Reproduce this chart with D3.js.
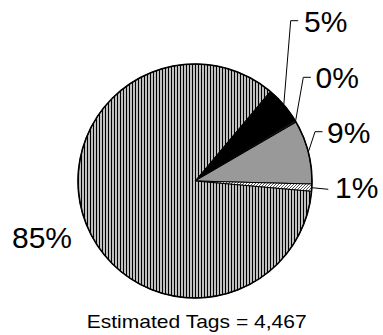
<!DOCTYPE html>
<html>
<head>
<meta charset="utf-8">
<script src="https://cdn.jsdelivr.net/npm/d3@7"></script>
<style>
  html, body { margin: 0; padding: 0; background: #fff; }
  svg { display: block; font-family: "Liberation Sans", Arial, sans-serif; }
</style>
</head>
<body>
<svg id="chart" width="383" height="335"></svg>
<script>
// Share of estimated tags by category (percent)
const categories = ["A", "B", "C", "D", "E"];
const shares = [5.2, 0.3, 8.8, 1.0, 84.7];
const labels = ["5%", "0%", "9%", "1%", "85%"];
const totalLabel = "Estimated Tags = 4,467";

const svg = d3.select("#chart");
const cx = 195, cy = 181, R = 117;

// Fill patterns
const defs = svg.append("defs");
const stripes = defs.append("pattern")
  .attr("id", "vstripe").attr("patternUnits", "userSpaceOnUse")
  .attr("width", 3).attr("height", 3);
stripes.append("rect").attr("width", 3).attr("height", 3).attr("fill", "#c0c0c0");
stripes.append("rect").attr("x", 0).attr("width", 1).attr("height", 3).attr("fill", "#000");

const hatch = defs.append("pattern")
  .attr("id", "dhatch").attr("patternUnits", "userSpaceOnUse")
  .attr("width", 3).attr("height", 3);
hatch.append("rect").attr("width", 3).attr("height", 3).attr("fill", "#fff");
hatch.append("path").attr("d", "M-1,1 L1,-1 M0,3 L3,0 M2,4 L4,2")
  .attr("stroke", "#444").attr("stroke-width", 0.9);

const fills = ["#000", "#1a1a1a", "#999999", "url(#dhatch)", "url(#vstripe)"];

const pie = d3.pie().sort(null).value(d => d)
  .startAngle(40 * Math.PI / 180)
  .endAngle(400 * Math.PI / 180);
const arcs = pie(shares);
const arc = d3.arc().innerRadius(0).outerRadius(R);

const g = svg.append("g").attr("transform", `translate(${cx},${cy})`);
g.selectAll("path.slice").data(arcs).join("path")
  .attr("class", "slice")
  .attr("d", arc)
  .attr("fill", (d, i) => fills[i])
  .attr("stroke", "#000")
  .attr("stroke-width", 1)
  .attr("stroke-linejoin", "round");

// outer rim
g.append("circle").attr("r", R).attr("fill", "none")
  .attr("stroke", "#000").attr("stroke-width", 1.6);

// Edge point at the middle of each slice
function edgePoint(d) {
  const a = (d.startAngle + d.endAngle) / 2;
  return [cx + R * Math.sin(a), cy - R * Math.cos(a)];
}

// Label placement: elbow of the leader and text anchor
const labelLayout = [
  { elbow: [290.7, 20.7], tail: 7.5, tx: 304, ty: 32 },
  { elbow: [303.3, 77.3], tail: 7.5, tx: 315.5, ty: 88 },
  { elbow: [315, 131.7], tail: 7.5, tx: 327, ty: 143 },
  { elbow: null, end: [328.3, 189.3], tx: 335, ty: 198 },
  { elbow: null, end: null, tx: 12, ty: 248 }
];

arcs.forEach((d, i) => {
  const L = labelLayout[i];
  const p = edgePoint(d);
  if (L.elbow) {
    const pts = [p, L.elbow, [L.elbow[0] + L.tail, L.elbow[1]]];
    svg.append("path").attr("d", d3.line()(pts))
      .attr("fill", "none").attr("stroke", "#000").attr("stroke-width", 1);
  } else if (L.end) {
    svg.append("path").attr("d", d3.line()([p, L.end]))
      .attr("fill", "none").attr("stroke", "#000").attr("stroke-width", 1);
  }
  svg.append("text")
    .attr("x", L.tx).attr("y", L.ty)
    .attr("font-size", 30)
    .attr("fill", "#000")
    .text(labels[i]);
});

svg.append("text")
  .attr("x", 196.7).attr("y", 328)
  .attr("text-anchor", "middle")
  .attr("font-size", 18.5)
  .attr("textLength", 220)
  .attr("lengthAdjust", "spacingAndGlyphs")
  .attr("fill", "#000")
  .text(totalLabel);
</script>
</body>
</html>
